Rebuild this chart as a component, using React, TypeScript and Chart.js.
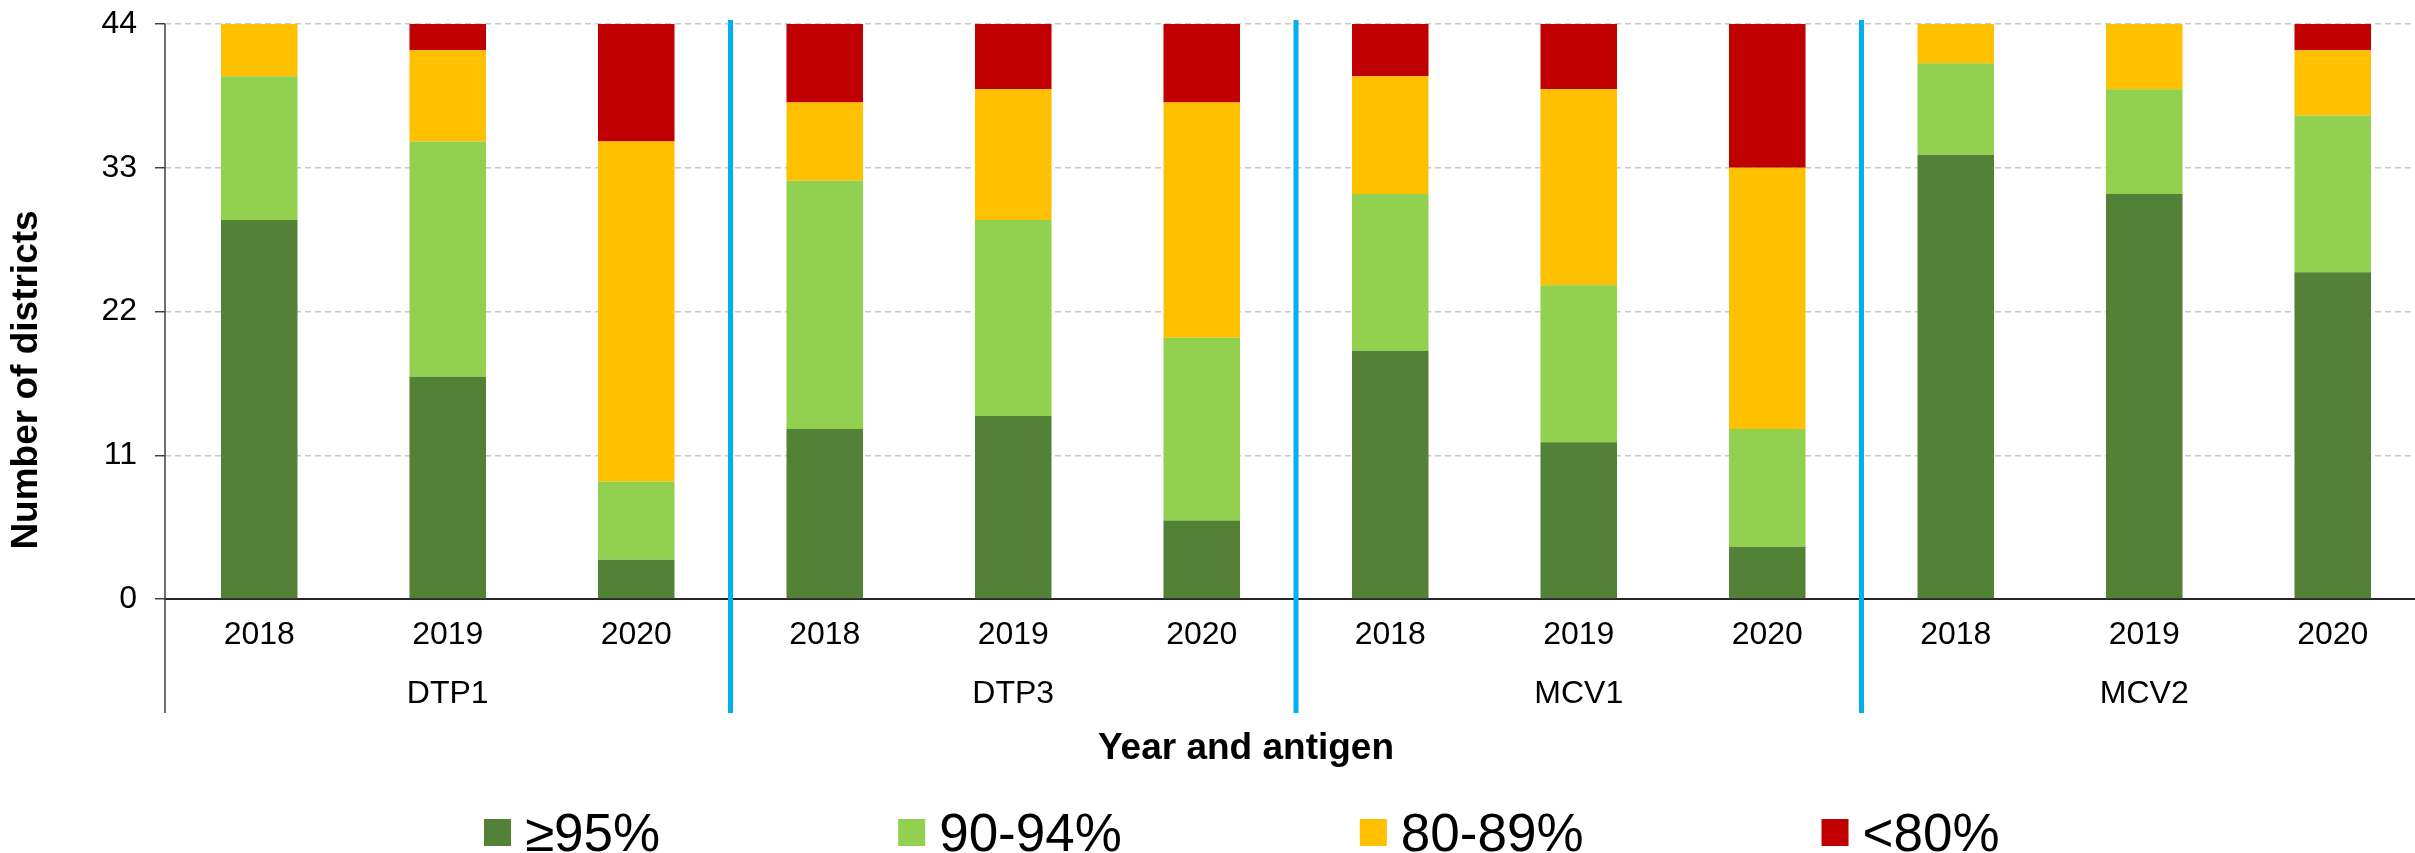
import React, { useEffect, useRef } from 'react';
import { Chart, registerables } from 'chart.js';

Chart.register(...registerables);

const years = ['2018', '2019', '2020'];
const antigens = ['DTP1', 'DTP3', 'MCV1', 'MCV2'];
const seriesLabels = ['≥95%', '90-94%', '80-89%', '<80%'];
const seriesColors = ['#538135', '#92D050', '#FFC000', '#C00000'];
const ge95 = [29, 17, 3, 13, 14, 6, 19, 12, 4, 34, 31, 25];
const p90to94 = [11, 18, 6, 19, 15, 14, 12, 12, 9, 7, 8, 12];
const p80to89 = [4, 7, 26, 6, 10, 18, 9, 15, 20, 3, 5, 5];
const lt80 = [0, 2, 9, 6, 5, 6, 4, 5, 11, 0, 0, 2];
const yTicks = [0, 11, 22, 33, 44];
const yAxisTitle = 'Number of districts';
const xAxisTitle = 'Year and antigen';

const FONT = '"Liberation Sans", Arial, Helvetica, sans-serif';
const OFFSET = 14; // canvas is shifted up by this many px on the page
const CANVAS_W = 2427;
const CANVAS_H = 853 + OFFSET;
const PLOT_BOTTOM = 599 + OFFSET;

const decorPlugin = {
  id: 'decor',
  afterDraw(chart: any) {
    const { ctx, chartArea, scales } = chart;
    const xs = scales.x;
    const Y = (v: number) => v + OFFSET;
    ctx.save();
    // y axis line, extended down through the category labels
    ctx.strokeStyle = '#404040';
    ctx.lineWidth = 1.5;
    ctx.setLineDash([]);
    ctx.beginPath();
    ctx.moveTo(chartArea.left, chartArea.top);
    ctx.lineTo(chartArea.left, Y(713));
    ctx.stroke();
    // blue group separators
    ctx.strokeStyle = '#00B0F0';
    ctx.lineWidth = 5;
    for (let g = 1; g < antigens.length; g++) {
      const px = xs.getPixelForValue(g * years.length - 0.5);
      ctx.beginPath();
      ctx.moveTo(px, chartArea.top - 4);
      ctx.lineTo(px, Y(713));
      ctx.stroke();
    }
    // y axis title
    ctx.fillStyle = '#000';
    ctx.font = `bold 37px ${FONT}`;
    ctx.textAlign = 'center';
    ctx.textBaseline = 'middle';
    ctx.save();
    ctx.translate(27, Y(380));
    ctx.rotate(-Math.PI / 2);
    ctx.fillText(yAxisTitle, 0, 0);
    ctx.restore();
    // x axis title
    ctx.textBaseline = 'alphabetic';
    ctx.fillText(xAxisTitle, 1246, Y(759));
    // legend
    ctx.font = `53px ${FONT}`;
    ctx.textAlign = 'left';
    const ds = chart.data.datasets;
    const box = 27;
    const gapText = 14;
    const gapItem = 238;
    const widths = ds.map((d: any) => ctx.measureText(d.label).width);
    let x = 484;
    ds.forEach((d: any, i: number) => {
      ctx.fillStyle = d.backgroundColor;
      ctx.fillRect(x, Y(819), box, box);
      ctx.fillStyle = '#000';
      ctx.fillText(d.label, x + box + gapText, Y(851));
      x += box + gapText + widths[i] + gapItem;
    });
    ctx.restore();
  },
};

export default function App() {
  const ref = useRef<HTMLCanvasElement | null>(null);
  useEffect(() => {
    if (!ref.current) return;
    Chart.defaults.font.family = FONT;
    const labels: string[][] = [];
    antigens.forEach((a) => {
      years.forEach((y, j) => {
        labels.push([y, j === 1 ? a : '']);
      });
    });
    const values = [ge95, p90to94, p80to89, lt80];
    const chart = new Chart(ref.current, {
      type: 'bar',
      data: {
        labels,
        datasets: values.map((v, i) => ({
          label: seriesLabels[i],
          data: v,
          backgroundColor: seriesColors[i],
          borderWidth: 0,
          categoryPercentage: 1,
          barPercentage: 0.406,
        })),
      },
      options: {
        responsive: false,
        maintainAspectRatio: false,
        animation: false,
        devicePixelRatio: 1,
        layout: { padding: { top: 38, right: 0, bottom: 0, left: 0 } },
        plugins: {
          legend: { display: false },
          tooltip: { enabled: false },
          title: { display: false },
        },
        scales: {
          x: {
            stacked: true,
            grid: { display: false, drawTicks: false },
            border: { display: true, color: '#262626', width: 2 },
            ticks: {
              autoSkip: false,
              maxRotation: 0,
              minRotation: 0,
              padding: 7,
              color: '#000',
              font: { size: 32, family: FONT, lineHeight: 1.844 },
            },
            afterFit: (s: any) => {
              s.height = CANVAS_H - PLOT_BOTTOM;
            },
          },
          y: {
            stacked: true,
            min: 0,
            max: 44,
            afterBuildTicks: (s: any) => {
              s.ticks = yTicks.map((v) => ({ value: v }));
            },
            grid: {
              color: '#C8C8C8',
              lineWidth: 1.5,
              drawTicks: true,
              tickLength: 10,
              tickColor: '#404040',
              tickWidth: 1.5,
              tickBorderDash: [],
            },
            border: { display: false, dash: [6, 4] },
            ticks: {
              padding: 18,
              color: '#000',
              font: { size: 32, family: FONT, lineHeight: 1.25 },
            },
            afterFit: (s: any) => {
              s.width = 165;
            },
          },
        },
      },
      plugins: [decorPlugin],
    });
    return () => chart.destroy();
  }, []);
  return (
    <div style={{ position: 'fixed', left: 0, top: 0, width: '100vw', height: '100vh', overflow: 'hidden', background: '#fff' }}>
      <canvas
        ref={ref}
        width={CANVAS_W}
        height={CANVAS_H}
        style={{ display: 'block', position: 'absolute', left: 0, top: -OFFSET, width: CANVAS_W, height: CANVAS_H }}
      />
    </div>
  );
}
